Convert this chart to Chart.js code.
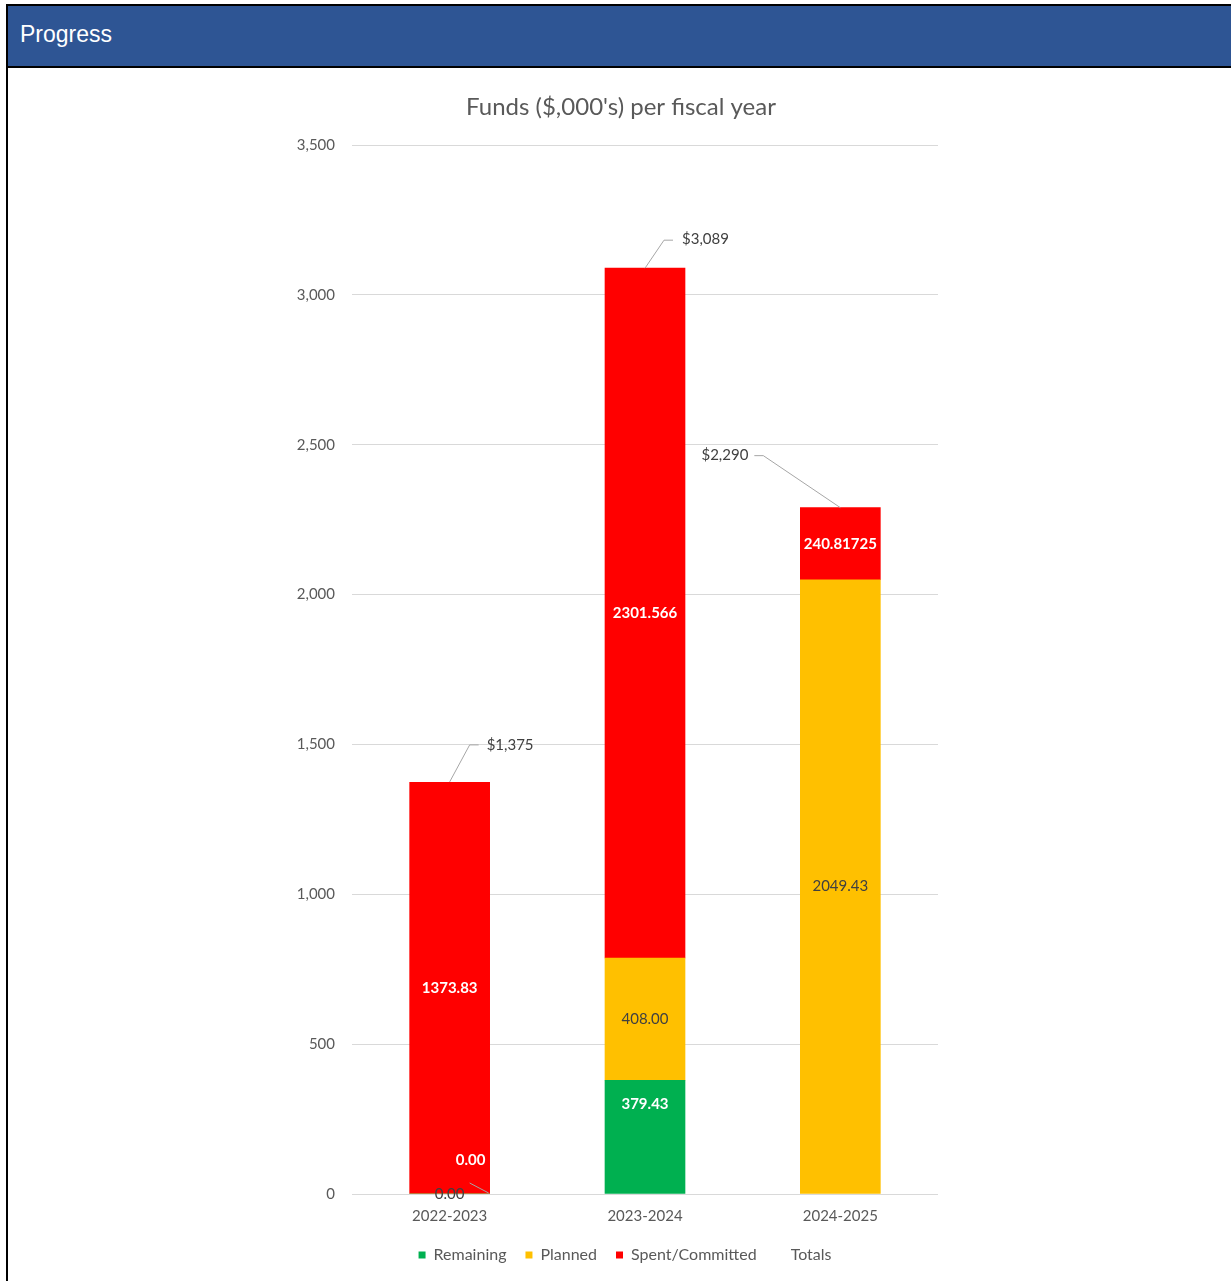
<!DOCTYPE html>
<html>
<head>
<meta charset="utf-8">
<script src="https://cdn.jsdelivr.net/npm/chart.js@4"></script>
<style>
  body { margin:0; background:#fff; }
  #panel { position:absolute; left:6px; top:4px; width:1240px; height:1300px; border:2px solid #000; box-sizing:border-box; }
  #hdr { height:60px; background:#2e5594; border-bottom:2px solid #000; color:#fff; font:23px "Liberation Sans", Arial, sans-serif; line-height:57px; padding-left:12px; }
  #wrap { position:absolute; left:0; top:0; width:1231px; height:1281px; }
</style>
</head>
<body>
<div id="panel"><div id="hdr">Progress</div></div>
<div id="wrap"><canvas id="chart"></canvas></div>
<script>
// ─── DATA ───
const YEARS     = ['2022-2023', '2023-2024', '2024-2025'];
const REMAINING = [0, 379.43, null];
const PLANNED   = [0, 408.00, 2049.43];
const SPENT     = [1373.83, 2301.566, 240.81725];
const TOTALS    = [1375, 3089, 2290];
const TITLE     = "Funds ($,000's) per fiscal year";

const GREEN = '#00b050', YELLOW = '#ffc000', RED = '#ff0000';
const TXT   = '#595959', DARK = '#404040', LEAD = '#a6a6a6';
const FONT  = 'Lato';

// label nudges (px) per dataset / year, like the moved labels in the original
const LABEL_SHIFT = {
  0: [[21, -34], [0, -33], [0, 0]],
};
// leader line for the moved 0.00 label
const SMALL_LEADER = { ds: 0, idx: 0, from: [20, -11], to: [39, -1] };
// totals callouts: bend point, line end, text x, text y, align
const TOTAL_CALLOUT = [
  { bend: [20, -37], end: [29, -37], tx: 37,  ty: -37, align: 'left'  },
  { bend: [19, -28], end: [28, -28], tx: 37,  ty: -29, align: 'left'  },
  { bend: [-77, -52], end: [-86, -52], tx: -92, ty: -52, align: 'right' },
];

function fmtVal(v) {
  const dec = (String(v).split('.')[1] || '').length;
  return v.toFixed(Math.max(2, dec));
}

// title and legend sit a bit off the plot centre in the original
const offsetPlugin = {
  id: 'offsets',
  afterLayout(chart) {
    chart.legend.left += 16;
    chart.legend.right += 16;
  },
  afterDraw(chart) {
    const ctx = chart.ctx;
    ctx.save();
    ctx.fillStyle = TXT;
    ctx.font = `24px ${FONT}`;
    ctx.textAlign = 'center'; ctx.textBaseline = 'middle';
    ctx.fillText(TITLE, chart.chartArea.left + 269, chart.chartArea.top - 38);
    ctx.restore();
  }
};

const labelPlugin = {
  id: 'valueLabels',
  afterDatasetsDraw(chart) {
    const ctx = chart.ctx;
    ctx.save();
    chart.data.datasets.forEach((ds, di) => {
      const meta = chart.getDatasetMeta(di);
      if (ds.type === 'line') {
        meta.data.forEach((pt, j) => {
          const c = TOTAL_CALLOUT[j];
          ctx.strokeStyle = LEAD; ctx.lineWidth = 1;
          ctx.beginPath();
          ctx.moveTo(pt.x, pt.y);
          ctx.lineTo(pt.x + c.bend[0], pt.y + c.bend[1]);
          ctx.lineTo(pt.x + c.end[0], pt.y + c.end[1]);
          ctx.stroke();
          ctx.fillStyle = DARK;
          ctx.font = `15px ${FONT}`;
          ctx.textAlign = c.align; ctx.textBaseline = 'middle';
          ctx.fillText('$' + ds.data[j].toLocaleString('en-US'), pt.x + c.tx, pt.y + c.ty);
        });
        return;
      }
      meta.data.forEach((bar, j) => {
        const v = ds.data[j];
        if (v === null || v === undefined) return;
        const sh = (LABEL_SHIFT[di] || [])[j] || [0, 0];
        const cx = bar.x + sh[0];
        const cy = (bar.y + bar.base) / 2 + sh[1];
        if (SMALL_LEADER.ds === di && SMALL_LEADER.idx === j) {
          ctx.strokeStyle = LEAD; ctx.lineWidth = 1;
          ctx.beginPath();
          ctx.moveTo(bar.x + SMALL_LEADER.from[0], bar.base + SMALL_LEADER.from[1]);
          ctx.lineTo(bar.x + SMALL_LEADER.to[0], bar.base + SMALL_LEADER.to[1]);
          ctx.stroke();
        }
        const white = ds.label !== 'Planned';
        ctx.fillStyle = white ? '#ffffff' : DARK;
        ctx.font = `${white ? 'bold ' : ''}15px ${FONT}`;
        ctx.textAlign = 'center'; ctx.textBaseline = 'middle';
        ctx.fillText(fmtVal(v), cx, cy);
      });
    });
    ctx.restore();
  }
};

Chart.defaults.font.family = FONT;
Chart.defaults.color = TXT;

new Chart(document.getElementById('chart'), {
  type: 'bar',
  data: {
    labels: YEARS,
    datasets: [
      { label: 'Remaining',       data: REMAINING, backgroundColor: GREEN,  borderColor: GREEN,  borderWidth: 0, stack: 's' },
      { label: 'Planned',         data: PLANNED,   backgroundColor: YELLOW, borderColor: YELLOW, borderWidth: 0, stack: 's' },
      { label: 'Spent/Committed', data: SPENT,     backgroundColor: RED,    borderColor: RED,    borderWidth: 0, stack: 's' },
      { label: 'Totals', type: 'line', data: TOTALS, stack: 'totals', showLine: false, pointRadius: 0,
        backgroundColor: 'rgba(0,0,0,0)', borderColor: 'rgba(0,0,0,0)', borderWidth: 0 }
    ]
  },
  options: {
    responsive: true,
    maintainAspectRatio: false,
    animation: false,
    events: [],
    barThickness: 80,
    layout: { padding: { left: 280, right: 293, top: 145, bottom: 8 } },
    plugins: {
      title: { display: false },
      legend: {
        position: 'bottom',
        labels: { boxWidth: 7, boxHeight: 7, padding: 19, color: TXT, font: { size: 16, family: FONT } }
      },
      tooltip: { enabled: false }
    },
    scales: {
      x: {
        stacked: true,
        grid: { display: false, drawTicks: false },
        border: { display: false },
        ticks: { color: TXT, font: { size: 15 }, padding: 13 },
        afterFit: s => { s.height = 34; }
      },
      y: {
        stacked: true, min: 0, max: 3500,
        grid: { color: '#d9d9d9', drawTicks: false },
        border: { display: false },
        ticks: { stepSize: 500, color: TXT, font: { size: 15 }, padding: 17 },
        afterFit: s => { s.width = 72; }
      }
    }
  },
  plugins: [labelPlugin, offsetPlugin]
});
</script>
</body>
</html>
